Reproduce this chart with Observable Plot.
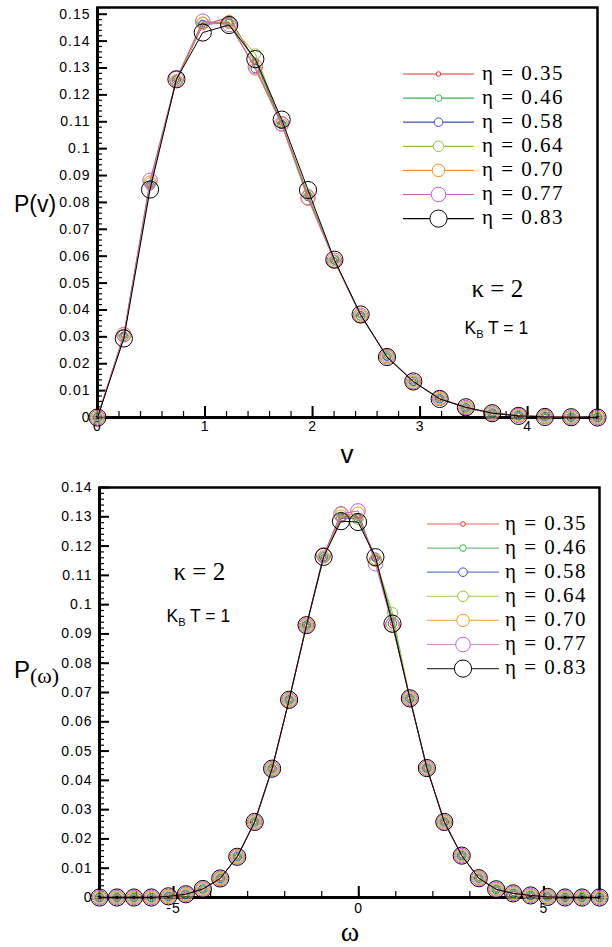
<!DOCTYPE html>
<html><head><meta charset="utf-8">
<script src="https://cdn.jsdelivr.net/npm/d3@7"></script>
<script src="https://cdn.jsdelivr.net/npm/@observablehq/plot@0.6"></script>
<style>
body{margin:0;background:#fff;}
#root{position:relative;width:612px;height:947px;overflow:hidden;background:#fff;}
#root svg{position:absolute;left:0;overflow:visible;}
#root g[aria-label="y-axis tick label"] text,
#root g[aria-label="x-axis tick label"] text{letter-spacing:1px;}
</style></head><body><div id="root"></div>
<script>
// ---------- series metadata ----------
const etaLabels = ["η = 0.35","η = 0.46","η = 0.58","η = 0.64","η = 0.70","η = 0.77","η = 0.83"];
const colors = ["#e8302a","#3ab54a","#3a50c0","#8dc63f","#f7941d","#c55fc0","#000000"];
const radii = [2.3, 3.3, 4.3, 5.3, 6.3, 7.3, 8.6];

// ---------- top panel: P(v) ----------
const vValues = [0, 0.245, 0.489, 0.734, 0.979, 1.224, 1.468, 1.713, 1.958, 2.203, 2.447, 2.692, 2.937, 3.182, 3.426, 3.671, 3.916, 4.161, 4.405, 4.65];
const Pv_035 = [0, 0.0305, 0.0865, 0.1255, 0.1460, 0.1488, 0.1325, 0.1095, 0.0825, 0.0585, 0.0380, 0.0228, 0.0133, 0.0071, 0.0036, 0.0016, 0.0007, 0.0003, 0.0001, 0];
const Pv_046 = [0, 0.0305, 0.0868, 0.1258, 0.1465, 0.1470, 0.1325, 0.1092, 0.0828, 0.0583, 0.0382, 0.0226, 0.0132, 0.0070, 0.0036, 0.0016, 0.0007, 0.0003, 0.0001, 0];
const Pv_058 = [0, 0.0302, 0.0862, 0.1256, 0.1462, 0.1468, 0.1298, 0.1090, 0.0822, 0.0586, 0.0378, 0.0228, 0.0134, 0.0070, 0.0036, 0.0016, 0.0007, 0.0003, 0.0001, 0];
const Pv_064 = [0, 0.0308, 0.0872, 0.1254, 0.1468, 0.1465, 0.1352, 0.1098, 0.0830, 0.0584, 0.0381, 0.0226, 0.0133, 0.0070, 0.0037, 0.0016, 0.0007, 0.0003, 0.0001, 0];
const Pv_070 = [0, 0.0306, 0.0875, 0.1252, 0.1466, 0.1472, 0.1296, 0.1088, 0.0812, 0.0582, 0.0379, 0.0227, 0.0132, 0.0070, 0.0037, 0.0016, 0.0007, 0.0003, 0.0001, 0];
const Pv_077 = [0, 0.0308, 0.0882, 0.1260, 0.1474, 0.1462, 0.1305, 0.1093, 0.0818, 0.0585, 0.0380, 0.0226, 0.0133, 0.0071, 0.0037, 0.0016, 0.0007, 0.0003, 0.0001, 0];
const Pv_083 = [0, 0.0294, 0.0848, 0.1258, 0.1432, 0.1460, 0.1333, 0.1108, 0.0846, 0.0587, 0.0383, 0.0225, 0.0134, 0.0069, 0.0038, 0.0016, 0.0006, 0.0002, 0.0001, 0];
const vTicks = [0, 1, 2, 3, 4];
const PvTicks = [0, 0.01, 0.02, 0.03, 0.04, 0.05, 0.06, 0.07, 0.08, 0.09, 0.1, 0.11, 0.12, 0.13, 0.14, 0.15];

// ---------- bottom panel: P(ω) ----------
const omegaValues = [-7.00, -6.53, -6.07, -5.60, -5.14, -4.67, -4.21, -3.74, -3.28, -2.81, -2.34, -1.88, -1.41, -0.95, -0.48, -0.02, 0.45, 0.91, 1.38, 1.84, 2.31, 2.78, 3.24, 3.71, 4.17, 4.64, 5.10, 5.57, 6.03, 6.50];
const Pw_035 = [0, 0, 0, 0, 0.0004, 0.0011, 0.0029, 0.0065, 0.0139, 0.0258, 0.0440, 0.0675, 0.0930, 0.1163, 0.1300, 0.1300, 0.1160, 0.0935, 0.0680, 0.0442, 0.0258, 0.0143, 0.0066, 0.0028, 0.0014, 0.0007, 0.0002, 0, 0, 0];
const Pw_046 = [0, 0, 0, 0, 0.0004, 0.0011, 0.0029, 0.0065, 0.0139, 0.0258, 0.0440, 0.0675, 0.0930, 0.1160, 0.1305, 0.1298, 0.1158, 0.0955, 0.0680, 0.0442, 0.0258, 0.0143, 0.0066, 0.0028, 0.0014, 0.0007, 0.0002, 0, 0, 0];
const Pw_058 = [0, 0, 0, 0, 0.0004, 0.0011, 0.0029, 0.0065, 0.0139, 0.0258, 0.0440, 0.0675, 0.0930, 0.1163, 0.1295, 0.1295, 0.1162, 0.0935, 0.0680, 0.0442, 0.0258, 0.0143, 0.0066, 0.0028, 0.0014, 0.0007, 0.0002, 0, 0, 0];
const Pw_064 = [0, 0, 0, 0, 0.0004, 0.0011, 0.0029, 0.0065, 0.0139, 0.0258, 0.0440, 0.0675, 0.0930, 0.1163, 0.1315, 0.1292, 0.1155, 0.0972, 0.0680, 0.0442, 0.0258, 0.0143, 0.0066, 0.0028, 0.0014, 0.0007, 0.0002, 0, 0, 0];
const Pw_070 = [0, 0, 0, 0, 0.0004, 0.0011, 0.0029, 0.0065, 0.0139, 0.0258, 0.0440, 0.0675, 0.0930, 0.1163, 0.1302, 0.1312, 0.1152, 0.0935, 0.0680, 0.0442, 0.0258, 0.0143, 0.0066, 0.0028, 0.0014, 0.0007, 0.0002, 0, 0, 0];
const Pw_077 = [0, 0, 0, 0, 0.0004, 0.0011, 0.0029, 0.0065, 0.0139, 0.0258, 0.0440, 0.0675, 0.0930, 0.1170, 0.1310, 0.1320, 0.1140, 0.0930, 0.0680, 0.0442, 0.0258, 0.0143, 0.0066, 0.0028, 0.0014, 0.0007, 0.0002, 0, 0, 0];
const Pw_083 = [0, 0, 0, 0, 0.0004, 0.0011, 0.0029, 0.0065, 0.0139, 0.0258, 0.0440, 0.0675, 0.0930, 0.1163, 0.1285, 0.1282, 0.1162, 0.0935, 0.0680, 0.0442, 0.0258, 0.0143, 0.0066, 0.0028, 0.0014, 0.0007, 0.0002, 0, 0, 0];
const omegaTicks = [-5, 0, 5];
const PwTicks = [0, 0.01, 0.02, 0.03, 0.04, 0.05, 0.06, 0.07, 0.08, 0.09, 0.1, 0.11, 0.12, 0.13, 0.14];

const SANS = "'Liberation Sans', Arial, Helvetica, sans-serif";
const SERIF = "'Liberation Serif', 'Times New Roman', serif";
const fmt = d => d3.format("~g")(+d.toFixed(4));

function panel({xs, series, xDomain, yDomain, xTicks, yTicks, xMinor, yMinor, top, height, mL, mR, mT, mB, xPad, yPad}) {
  const FH = height - mT - mB, FW = 612 - mL - mR;
  const marks = [
    Plot.ruleX(xMinor, {x: d => d, insetTop: FH - 6, stroke: "#000", strokeWidth: 1.2}),
    Plot.ruleX(xTicks, {x: d => d, insetTop: FH - 11, stroke: "#000", strokeWidth: 2}),
    Plot.ruleY(yMinor, {y: d => d, insetRight: FW - 5, stroke: "#000", strokeWidth: 1.2}),
    Plot.ruleY(yTicks, {y: d => d, insetRight: FW - 10, stroke: "#000", strokeWidth: 2}),
    Plot.frame({stroke: "#000", strokeWidth: 2.5}),
    Plot.ruleX([xDomain[0]], {stroke: "#000", strokeWidth: 3}),
    Plot.ruleY([0], {stroke: "#000", strokeWidth: 3}),
    Plot.axisX(xTicks, {tickSize: 0, tickPadding: xPad, tickFormat: d => String(d), label: null, fontSize: 14}),
    Plot.axisY(yTicks, {tickSize: 0, tickPadding: yPad, tickFormat: fmt, label: null, fontSize: 14})
  ];
  series.forEach((ys, i) => {
    const data = xs.map((x, j) => ({x, y: ys[j]}));
    marks.push(Plot.line(data, {x: "x", y: "y", stroke: colors[i], strokeWidth: 1}));
    marks.push(Plot.dot(data, {x: "x", y: "y", r: radii[i], stroke: colors[i], fill: "none", strokeWidth: 1}));
  });
  const svg = Plot.plot({
    width: 612, height,
    marginLeft: mL, marginRight: mR, marginTop: mT, marginBottom: mB,
    x: {domain: xDomain, axis: null},
    y: {domain: yDomain, axis: null},
    style: {fontFamily: SANS, fontSize: "14px", color: "#000", background: "transparent", overflow: "visible"},
    marks
  });
  svg.style.top = top + "px";
  return svg;
}

const root = document.getElementById("root");
root.appendChild(panel({
  xs: vValues, series: [Pv_035, Pv_046, Pv_058, Pv_064, Pv_070, Pv_077, Pv_083],
  xDomain: [0, 4.65], yDomain: [0, 0.1525], xTicks: vTicks, yTicks: PvTicks,
  xMinor: d3.range(0.2, 4.65, 0.2), yMinor: d3.range(0.002, 0.152, 0.002),
  top: 0, height: 470, mL: 97, mR: 15, mT: 7, mB: 53, xPad: 4, yPad: 7
}));
root.appendChild(panel({
  xs: omegaValues, series: [Pw_035, Pw_046, Pw_058, Pw_064, Pw_070, Pw_077, Pw_083],
  xDomain: [-7, 6.5], yDomain: [0, 0.14], xTicks: omegaTicks, yTicks: PwTicks,
  xMinor: d3.range(-6, 6.5, 1), yMinor: d3.range(0.002, 0.14, 0.002),
  top: 470, height: 477, mL: 99, mR: 13, mT: 17, mB: 50, xPad: 6, yPad: 7
}));

// ---------- overlay: legends, annotations, axis titles ----------
const ov = d3.select(root).append("svg").attr("width", 612).attr("height", 947).style("top", "0px");

function legend(y0, lx1, lx2, mx, tx, alpha) {
  etaLabels.forEach((lab, i) => {
    const y = y0 + i * 24.1;
    ov.append("line").attr("x1", lx1).attr("x2", lx2).attr("y1", y).attr("y2", y)
      .attr("stroke", colors[i]).attr("stroke-width", 1.2).attr("stroke-opacity", alpha);
    ov.append("circle").attr("cx", mx).attr("cy", y).attr("r", radii[i])
      .attr("fill", "#fff").attr("stroke", colors[i]).attr("stroke-width", 1);
    ov.append("text").attr("x", tx).attr("y", y + 5.8).text(lab)
      .attr("font-family", SERIF).attr("font-size", 21).attr("letter-spacing", "1.5px");
  });
}
legend(74, 403, 474, 438.5, 482, 1);
legend(524, 427, 499, 463, 505, 0.75);

function kappa(x, y1, y2) {
  ov.append("text").attr("x", x).attr("y", y1).text("κ = 2")
    .attr("font-family", SERIF).attr("font-size", 25);
  const t = ov.append("text").attr("x", x - 7).attr("y", y2)
    .attr("font-family", SANS).attr("font-size", 17.5);
  t.append("tspan").text("K");
  t.append("tspan").text("B").attr("font-size", 11).attr("dy", 4);
  t.append("tspan").text(" T = 1").attr("dy", -4);
}
kappa(471.5, 296.5, 334);
kappa(173.5, 580, 621.5);

// axis titles
ov.append("text").attr("x", 14).attr("y", 211.5).text("P(v)")
  .attr("font-family", SANS).attr("font-size", 23);
const pw = ov.append("text").attr("x", 14).attr("y", 678).attr("font-family", SANS).attr("font-size", 24);
pw.append("tspan").text("P");
pw.append("tspan").text("(ω)").attr("font-family", SERIF).attr("font-size", 22).attr("dy", 5);
ov.append("text").attr("x", 347).attr("y", 463).attr("text-anchor", "middle").text("v")
  .attr("font-family", SANS).attr("font-size", 26);
ov.append("text").attr("x", 350).attr("y", 941).attr("text-anchor", "middle").text("ω")
  .attr("font-family", SERIF).attr("font-size", 28);
</script>
</body></html>
